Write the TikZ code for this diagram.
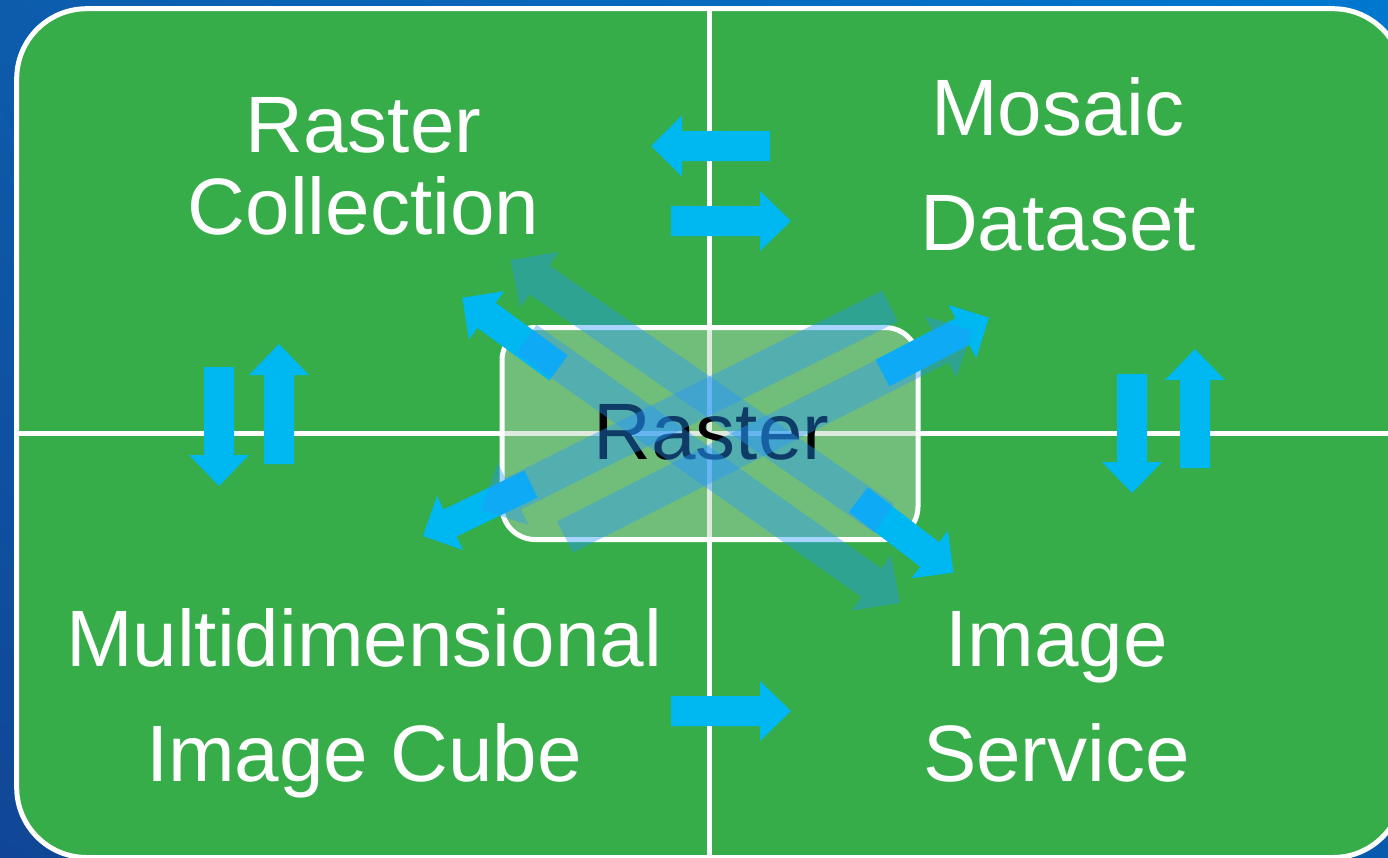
\documentclass[tikz,border=0pt]{standalone}
\usepackage{fontspec}
\setmainfont{Liberation Sans}
\usetikzlibrary{calc,shadings}
\definecolor{panelgreen}{RGB}{54,173,72}
\definecolor{solidblue}{RGB}{0,184,241}
\definecolor{glassblue}{RGB}{37,150,255}
\definecolor{boxfill}{RGB}{183,211,183}
\definecolor{bgtl}{RGB}{13,92,172}
\definecolor{bgtr}{RGB}{0,120,208}
\definecolor{bgbl}{RGB}{17,70,150}
\definecolor{bgbr}{RGB}{8,90,175}
\tikzset{
  label text/.style={text=white,inner sep=0pt,outer sep=0pt,align=center,anchor=base,font=\fontsize{80}{81}\selectfont},
  grid line/.style={draw=white,line width=5pt},
  solid arrow/.style={fill=solidblue},
  glass arrow/.style={fill=glassblue,fill opacity=0.4},
}
\newcommand\blockarrow[6]{%
  \coordinate (hb) at ($(#3)!#6!(#2)$);
  \fill[#1] ($(#2)!#4!90:(#3)$) -- ($(hb)!#4!90:(#3)$) -- ($(hb)!#5!90:(#3)$) -- (#3)
    -- ($(hb)!#5!-90:(#3)$) -- ($(hb)!#4!-90:(#3)$) -- ($(#2)!#4!-90:(#3)$) -- cycle;
}
\begin{document}
\begin{tikzpicture}[x=1pt,y=-1pt]
\useasboundingbox (0,0) rectangle (1388,857);
\shade[upper left=bgtl,upper right=bgtr,lower left=bgbl,lower right=bgbr] (0,0) rectangle (1388,857);
\begin{scope}
\clip (0,0) rectangle (1388,857);
\draw[draw=white,line width=5pt,fill=panelgreen,rounded corners=70pt] (16.7,8.7) rectangle (1403,857.5);
\coordinate (vt) at (709.5,8.7);
\coordinate (vb) at (709.5,857.5);
\coordinate (hl) at (16.7,433);
\coordinate (hr) at (1400,433);
\draw[grid line] (vt) -- (vb);
\draw[grid line] (hl) -- (hr);
\end{scope}

\node[label text] (collection) at (363.5,234) {Raster\\[1pt]Collection};
\node[label text] (mosaic) at (1058,250) {Mosaic\\[34pt]Dataset};
\node[label text] (cube) at (364,781) {Multidimensional\\[34pt]Image Cube};
\node[label text] (service) at (1056.5,781) {Image\\[34pt]Service};

\fill[boxfill,fill opacity=0.46,rounded corners=33pt] (502,327.5) rectangle (918,539.5);
\draw[white,line width=5pt,rounded corners=33pt] (502,327.5) rectangle (918,539.5);
\node[label text,text=black] (raster) at (711.5,459) {Raster};

% horizontal and vertical block arrows
\coordinate (a1t) at (770,146); \coordinate (a1h) at (651,146);
\coordinate (a2t) at (671,221); \coordinate (a2h) at (791,221);
\coordinate (a3t) at (219,367); \coordinate (a3h) at (219,486);
\coordinate (a4t) at (279,464); \coordinate (a4h) at (279,344);
\coordinate (a5t) at (1132,374); \coordinate (a5h) at (1132,493);
\coordinate (a6t) at (1195,468); \coordinate (a6h) at (1195,349);
\coordinate (a7t) at (671,711); \coordinate (a7h) at (791,711);
\blockarrow{solid arrow}{a1t}{a1h}{15pt}{30.5pt}{31pt}
\blockarrow{solid arrow}{a2t}{a2h}{15pt}{30pt}{31pt}
\blockarrow{solid arrow}{a3t}{a3h}{15pt}{30pt}{31pt}
\blockarrow{solid arrow}{a4t}{a4h}{15pt}{30pt}{31pt}
\blockarrow{solid arrow}{a5t}{a5h}{15pt}{30pt}{31pt}
\blockarrow{solid arrow}{a6t}{a6h}{15pt}{30pt}{31pt}
\blockarrow{solid arrow}{a7t}{a7h}{15pt}{30pt}{31pt}

% solid diagonal arrows
\coordinate (et) at (882.5,373); \coordinate (eh) at (989,317.7);
\coordinate (ft) at (531,484);     \coordinate (fh) at (423,536);
\coordinate (gt) at (858.3,499.7); \coordinate (gh) at (953.5,572.7);
\coordinate (ht) at (558.5,367.9); \coordinate (hh) at (462.3,297.7);
\blockarrow{solid arrow}{et}{eh}{15pt}{30pt}{30pt}
\blockarrow{solid arrow}{ft}{fh}{15pt}{30pt}{30pt}
\blockarrow{solid arrow}{gt}{gh}{15.5pt}{30pt}{30pt}
\blockarrow{solid arrow}{ht}{hh}{15.5pt}{30pt}{30pt}

% translucent diagonal arrows
\coordinate (at) at (884.2,518.3); \coordinate (ah) at (510.6,260);
\coordinate (bt) at (526.4,339);   \coordinate (bh) at (900,603);
\coordinate (ct) at (890,306);     \coordinate (ch) at (481,510);
\coordinate (dt) at (565,537);     \coordinate (dh) at (972.7,330.7);
\blockarrow{glass arrow}{at}{ah}{17.5pt}{34pt}{35pt}
\blockarrow{glass arrow}{bt}{bh}{17.5pt}{34pt}{35pt}
\blockarrow{glass arrow}{ct}{ch}{17.5pt}{34.5pt}{36pt}
\blockarrow{glass arrow}{dt}{dh}{17.5pt}{34.5pt}{36pt}
\end{tikzpicture}
\end{document}
